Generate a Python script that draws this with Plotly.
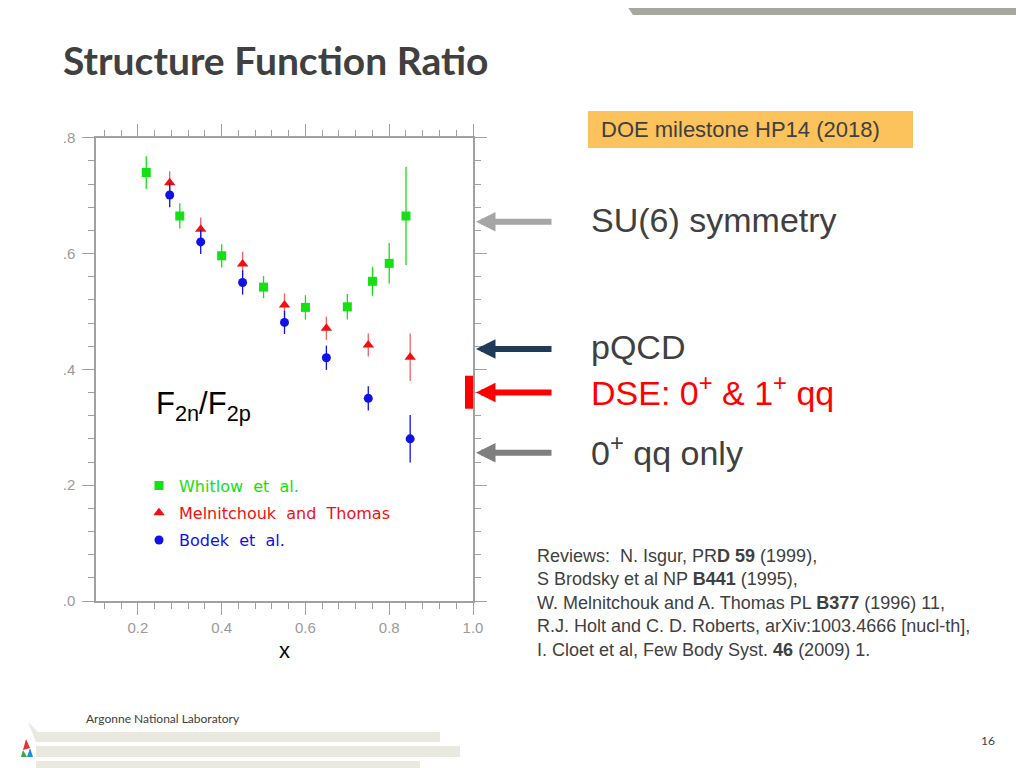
import plotly.graph_objects as go

# ---------------- data ----------------
wh_x = [0.22, 0.30, 0.40, 0.50, 0.60, 0.70, 0.76, 0.80, 0.84]
wh_y = [0.740, 0.665, 0.596, 0.542, 0.507, 0.508, 0.552, 0.583, 0.665]
wh_err = [0.028, 0.022, 0.020, 0.019, 0.021, 0.022, 0.025, 0.035, 0.085]

mt_x = [0.276, 0.35, 0.45, 0.55, 0.65, 0.75, 0.85]
mt_y = [0.722, 0.642, 0.582, 0.511, 0.471, 0.442, 0.421]
mt_err = [0.020, 0.020, 0.021, 0.020, 0.020, 0.020, 0.041]

bo_x = [0.276, 0.35, 0.45, 0.55, 0.65, 0.75, 0.85]
bo_y = [0.701, 0.620, 0.550, 0.481, 0.420, 0.350, 0.280]
bo_err = [0.021, 0.021, 0.021, 0.020, 0.021, 0.021, 0.041]

series_names = ["Whitlow\u00a0\u00a0et\u00a0\u00a0al.",
                "Melnitchouk\u00a0\u00a0and\u00a0\u00a0Thomas",
                "Bodek\u00a0\u00a0et\u00a0\u00a0al."]

x_tickvals = [0.2, 0.4, 0.6, 0.8, 1.0]
x_ticktext = ["0.2", "0.4", "0.6", "0.8", "1.0"]
y_tickvals = [0.0, 0.2, 0.4, 0.6, 0.8]
y_ticktext = [".0", ".2", ".4", ".6", ".8"]

# model predictions (arrow levels)
arrow_labels = ["SU(6) symmetry", "pQCD",
                "DSE: 0<sup>+</sup> & 1<sup>+</sup> qq", "0<sup>+</sup> qq only"]
arrow_levels = [0.655, 0.435, 0.360, 0.256]
dse_band = [0.332, 0.389]

references = ("Reviews:  N. Isgur, PR<b>D 59</b> (1999),<br>"
              "S Brodsky et al NP <b>B441</b> (1995),<br>"
              "W. Melnitchouk and A. Thomas PL <b>B377</b> (1996) 11,<br>"
              "R.J. Holt and C. D. Roberts, arXiv:1003.4666 [nucl-th],<br>"
              "I. Cloet et al, Few Body Syst. <b>46</b> (2009) 1.")

GREEN = "#14e014"
RED = "#f01010"
BLUE = "#1010e8"
TXT = "#404040"

# the page body has an 8px margin: the figure fills the rest of the window
OFF = 8
W, H = 1024 - OFF, 768 - OFF


def P(px):
    return (px - OFF) / W


def Q(py):
    return 1 - (py - OFF) / H


fig = go.Figure()

fig.add_trace(go.Scatter(
    x=wh_x, y=wh_y, mode="markers", name=f"<span style='color:{GREEN}'>{series_names[0]}</span>",
    legendgroup="a",
    marker=dict(symbol="square", size=9, color=GREEN),
    error_y=dict(type="data", array=wh_err, color=GREEN, thickness=1.3, width=0)))
fig.add_trace(go.Scatter(
    x=mt_x, y=mt_y, mode="markers", name=f"<span style='color:{RED}'>{series_names[1]}</span>",
    legendgroup="b",
    marker=dict(symbol="triangle-up", size=10, color=RED),
    error_y=dict(type="data", array=mt_err, color="#f46060", thickness=1.3, width=0)))
fig.add_trace(go.Scatter(
    x=bo_x, y=bo_y, mode="markers", name=f"<span style='color:{BLUE}'>{series_names[2]}</span>",
    legendgroup="c",
    marker=dict(symbol="circle", size=9, color=BLUE),
    error_y=dict(type="data", array=bo_err, color=BLUE, thickness=1.3, width=0)))

axis_common = dict(
    showline=True, linecolor="#a0a0a0", linewidth=1.5, mirror="allticks",
    ticks="outside", ticklen=12, tickcolor="#a0a0a0", tickwidth=1.2,
    showgrid=False, zeroline=False, automargin=False,
    tickfont=dict(family="Liberation Sans", size=15, color="#9a9a9a"),
)

fig.update_layout(
    width=W, height=H,
    margin=dict(l=0, r=0, t=0, b=0, autoexpand=False),
    paper_bgcolor="white", plot_bgcolor="white",
    showlegend=True,
    legend=dict(x=P(139), y=Q(468.5), xanchor="left", yanchor="top",
                bgcolor="rgba(0,0,0,0)", tracegroupgap=3.5,
                font=dict(family="DejaVu Sans", size=16),
                traceorder="grouped", itemsizing="trace"),
    xaxis=dict(domain=[P(96), P(473)], range=[0.1, 1.0],
               tickmode="array", tickvals=x_tickvals, ticktext=x_ticktext,
               minor=dict(tickmode="linear", tick0=0, dtick=0.04, ticklen=6,
                          tickcolor="#a0a0a0", ticks="outside"),
               title=dict(text="x", font=dict(family="Liberation Sans", size=22, color="black"),
                          standoff=8),
               **axis_common),
    yaxis=dict(domain=[Q(601), Q(137.7)], range=[0, 0.8],
               tickmode="array", tickvals=y_tickvals, ticktext=y_ticktext,
               minor=dict(tickmode="linear", tick0=0, dtick=0.04, ticklen=6,
                          tickcolor="#a0a0a0", ticks="outside"),
               ticklabelstandoff=4,
               **axis_common),
)

shapes = []
# top grey band
shapes.append(dict(type="path", xref="paper", yref="paper",
                   path=f"M {P(623)},{Q(0)} L {P(1024)},{Q(0)} L {P(1024)},{Q(15)} L {P(633)},{Q(15)} Z",
                   fillcolor="#a7a7a1", line=dict(width=0)))
# DOE box
shapes.append(dict(type="rect", xref="paper", yref="paper",
                   x0=P(588), x1=P(913), y0=Q(148), y1=Q(111),
                   fillcolor="#fcc25c", line=dict(width=0)))
# DSE band
shapes.append(dict(type="rect", xref="paper", yref="y",
                   x0=P(465), x1=P(473), y0=dse_band[0], y1=dse_band[1],
                   fillcolor="#ff0000", line=dict(width=0)))
# footer stripes
stripe_col = "#e9e9df"
shapes.append(dict(type="path", xref="paper", yref="paper",
                   path=f"M {P(28)},{Q(722)} L {P(36)},{Q(742)} L {P(440)},{Q(742)} L {P(440)},{Q(732)} L {P(38)},{Q(732)} Z",
                   fillcolor=stripe_col, line=dict(width=0)))
shapes.append(dict(type="path", xref="paper", yref="paper",
                   path=f"M {P(36)},{Q(746)} L {P(460)},{Q(746)} L {P(460)},{Q(757)} L {P(36)},{Q(757)} Z",
                   fillcolor=stripe_col, line=dict(width=0)))
shapes.append(dict(type="path", xref="paper", yref="paper",
                   path=f"M {P(36)},{Q(761)} L {P(420)},{Q(761)} L {P(420)},{Q(768)} L {P(36)},{Q(768)} Z",
                   fillcolor=stripe_col, line=dict(width=0)))
# logo
shapes.append(dict(type="path", xref="paper", yref="paper",
                   path=f"M {P(23)},{Q(750)} L {P(26)},{Q(739)} L {P(30)},{Q(748)} Z",
                   fillcolor="#e8312f", line=dict(width=0)))
shapes.append(dict(type="path", xref="paper", yref="paper",
                   path=f"M {P(21)},{Q(757)} L {P(23)},{Q(750)} L {P(27)},{Q(757)} Z",
                   fillcolor="#3aa843", line=dict(width=0)))
shapes.append(dict(type="path", xref="paper", yref="paper",
                   path=f"M {P(27)},{Q(757)} L {P(30)},{Q(748)} L {P(33)},{Q(757)} Z",
                   fillcolor="#1e8fd6", line=dict(width=0)))
fig.update_layout(shapes=shapes)

ann = []
ann.append(dict(text="<b>Structure Function Ratio</b>", x=P(61), y=Q(60), xref="paper", yref="paper",
                xanchor="left", yanchor="middle", showarrow=False,
                font=dict(family="Lato", size=39, color=TXT)))
ann.append(dict(text="F<sub>2n</sub>/F<sub>2p</sub>", x=P(154), y=Q(406), xref="paper", yref="paper",
                xanchor="left", yanchor="middle", showarrow=False,
                font=dict(family="Liberation Sans", size=31, color="black")))
ann.append(dict(text="DOE milestone HP14 (2018)", x=P(599), y=Q(130), xref="paper", yref="paper",
                xanchor="left", yanchor="middle", showarrow=False,
                font=dict(family="Liberation Sans", size=22, color=TXT)))

arrow_cols = ["#a6a6a6", "#1f3b57", "#ff0000", "#7f7f7f"]
text_cols = [TXT, TXT, "#ff0000", TXT]
for lab, lev, ac, tc in zip(arrow_labels, arrow_levels, arrow_cols, text_cols):
    ann.append(dict(text="", x=P(476), y=lev, xref="paper", yref="y",
                    ax=77, ay=0, showarrow=True, arrowhead=2, arrowsize=0.65,
                    arrowwidth=6, arrowcolor=ac))
    ann.append(dict(text=lab, x=P(589), y=lev, xref="paper", yref="y",
                    xanchor="left", yanchor="middle", yshift=2, showarrow=False,
                    font=dict(family="Liberation Sans", size=34, color=tc)))

ann.append(dict(text=references, x=P(535), y=Q(544), xref="paper", yref="paper",
                xanchor="left", yanchor="top", align="left", showarrow=False,
                font=dict(family="Liberation Sans", size=18, color=TXT)))
ann.append(dict(text="Argonne National Laboratory", x=P(84), y=Q(718), xref="paper", yref="paper",
                xanchor="left", yanchor="middle", showarrow=False,
                font=dict(family="Lato", size=12, color=TXT)))
ann.append(dict(text="16", x=P(997), y=Q(740), xref="paper", yref="paper",
                xanchor="right", yanchor="middle", showarrow=False,
                font=dict(family="Lato", size=12, color=TXT)))
fig.update_layout(annotations=ann)

fig.write_html("out.html")
